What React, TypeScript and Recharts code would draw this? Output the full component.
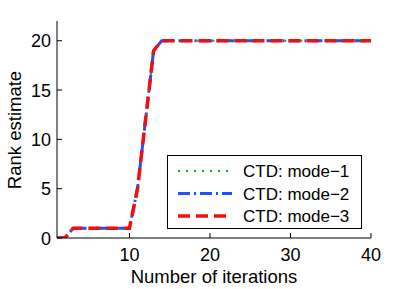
import { LineChart, Line, XAxis, YAxis, Legend, Label } from 'recharts';

const iterations = Array.from({ length: 40 }, (_, i) => i + 1);

const mode1 = [0, 0, 1, 1, 1, 1, 1, 1, 1, 1, 5, 12, 19, 20, 20, 20, 20, 20, 20, 20,
    20, 20, 20, 20, 20, 20, 20, 20, 20, 20, 20, 20, 20, 20, 20, 20, 20, 20, 20, 20];
const mode2 = [0, 0, 1, 1, 1, 1, 1, 1, 1, 1, 5, 12, 19, 20, 20, 20, 20, 20, 20, 20,
    20, 20, 20, 20, 20, 20, 20, 20, 20, 20, 20, 20, 20, 20, 20, 20, 20, 20, 20, 20];
const mode3 = [0, 0, 1, 1, 1, 1, 1, 1, 1, 1, 5, 12, 19, 20, 20, 20, 20, 20, 20, 20,
    20, 20, 20, 20, 20, 20, 20, 20, 20, 20, 20, 20, 20, 20, 20, 20, 20, 20, 20, 20];

const xTicks = [10, 20, 30, 40];
const yTicks = [0, 5, 10, 15, 20];

const series = [
    { key: 'm1', name: 'CTD: mode\u22121', color: '#1fa81f', width: 2, dash: '2 6' },
    { key: 'm2', name: 'CTD: mode\u22122', color: '#2050ff', width: 3, dash: '12 4 2 4' },
    { key: 'm3', name: 'CTD: mode\u22123', color: '#f01010', width: 3.5, dash: '12 6' },
];

const data = iterations.map((it, i) => ({ it, m1: mode1[i], m2: mode2[i], m3: mode3[i] }));

const FONT = '"Liberation Sans", Arial, sans-serif';
const TICK = 5;

function BottomTick({ x, y, payload }: any) {
    return (
        <g>
            <line x1={x} x2={x} y1={y} y2={y - TICK} stroke="#000" />
            <text x={x} y={y + 23} textAnchor="middle" fontSize={18} fontFamily={FONT} fill="#000">
                {payload.value}
            </text>
        </g>
    );
}

function TopTick({ x, y }: any) {
    return <line x1={x} x2={x} y1={y} y2={y + TICK} stroke="#000" />;
}

function LeftTick({ x, y, payload }: any) {
    return (
        <g>
            <line x1={x} x2={x + TICK} y1={y} y2={y} stroke="#000" />
            <text x={x - 6} y={y + 6.5} textAnchor="end" fontSize={18} fontFamily={FONT} fill="#000">
                {payload.value}
            </text>
        </g>
    );
}

function RightTick({ x, y }: any) {
    return <line x1={x} x2={x - TICK} y1={y} y2={y} stroke="#000" />;
}

function LegendBox() {
    return (
        <div style={{ width: 193, height: 72, border: '1px solid #000', background: '#fff', boxSizing: 'content-box' }}>
            <svg width={193} height={72}>
                {series.map((s, i) => (
                    <g key={s.key}>
                        <line x1={10} x2={64} y1={15 + i * 22.5} y2={15 + i * 22.5}
                            stroke={s.color} strokeWidth={s.width} strokeDasharray={s.dash} />
                        <text x={75} y={21 + i * 22.5} fontSize={17} fontFamily={FONT} fill="#000">{s.name}</text>
                    </g>
                ))}
            </svg>
        </div>
    );
}

export default function App() {
    return (
        <div style={{ position: 'absolute', left: 0, top: 0, width: 410, height: 289, background: '#fff' }}>
            <LineChart width={410} height={289} data={data}
                margin={{ top: 21, right: 39, bottom: 21, left: 17 }}>
                <XAxis dataKey="it" type="number" domain={[1, 40]} ticks={xTicks}
                    allowDataOverflow height={30} tickSize={0} tickMargin={0} tickLine={false}
                    axisLine={{ stroke: '#000' }} tick={<BottomTick />}>
                    <Label content={() => (
                        <text x={214} y={283} textAnchor="middle" fontSize={18.5} fontFamily={FONT} fill="#000">
                            Number of iterations
                        </text>
                    )} />
                </XAxis>
                <XAxis xAxisId="top" orientation="top" dataKey="it" type="number" domain={[1, 40]}
                    ticks={xTicks} allowDataOverflow height={0} tickSize={0} tickMargin={0} tickLine={false}
                    axisLine={{ stroke: '#000' }} tick={<TopTick />} />
                <YAxis type="number" domain={[0, 22]} ticks={yTicks} allowDataOverflow width={40}
                    tickSize={0} tickMargin={0} tickLine={false} axisLine={{ stroke: '#000' }} tick={<LeftTick />}>
                    <Label content={() => (
                        <text x={21} y={130} transform="rotate(-90 21 130)" textAnchor="middle"
                            fontSize={18.5} fontFamily={FONT} fill="#000">
                            Rank estimate
                        </text>
                    )} />
                </YAxis>
                <YAxis yAxisId="right" orientation="right" type="number" domain={[0, 22]} ticks={yTicks}
                    allowDataOverflow width={0} tickSize={0} tickMargin={0} tickLine={false}
                    axisLine={{ stroke: '#000' }} tick={<RightTick />} />
                {series.map(s => (
                    <Line key={s.key} dataKey={s.key} name={s.name} stroke={s.color} strokeWidth={s.width}
                        strokeDasharray={s.dash} strokeLinecap="butt" dot={false} activeDot={false}
                        isAnimationActive={false} />
                ))}
                <Legend layout="vertical" align="center" verticalAlign="middle" content={<LegendBox />}
                    wrapperStyle={{ position: 'absolute', left: 167, top: 155, width: 195, height: 74 }} />
            </LineChart>
        </div>
    );
}
